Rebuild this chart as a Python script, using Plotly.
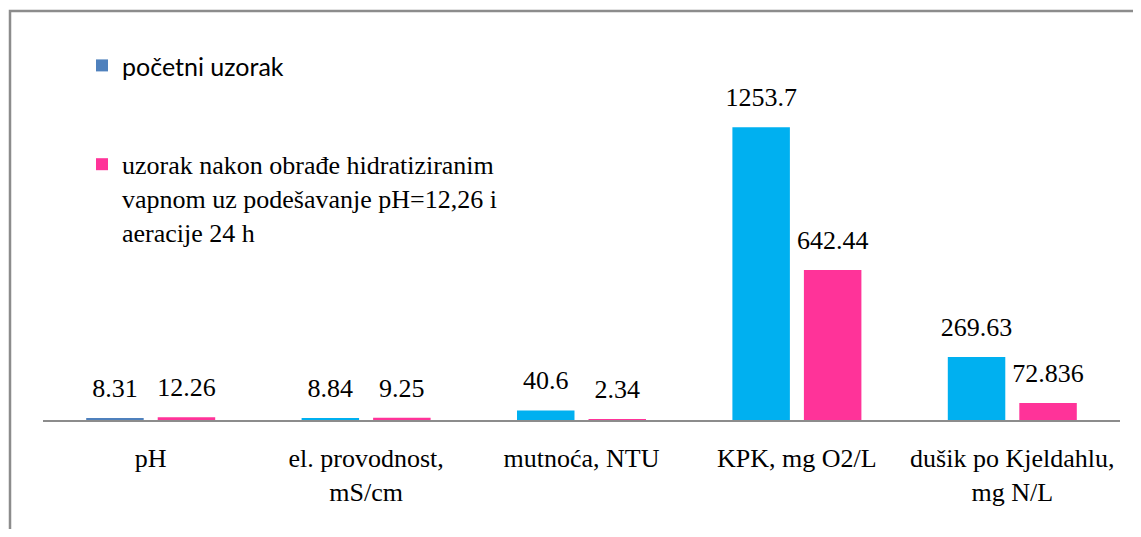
import plotly.graph_objects as go

categories = ["pH", "el. provodnost,<br>mS/cm", "mutnoća, NTU", "KPK, mg O2/L", "dušik po Kjeldahlu,<br>mg N/L"]
initial_vals = [8.31, 8.84, 40.6, 1253.7, 269.63]
treated_vals = [12.26, 9.25, 2.34, 642.44, 72.836]
initial_name = "početni uzorak"
treated_name = "uzorak nakon obrađe hidratiziranim<br>vapnom uz podešavanje pH=12,26 i<br>aeracije 24 h"

initial_colors = ["#4F81BD", "#00B0F0", "#00B0F0", "#00B0F0", "#00B0F0"]
treated_color = "#FF3399"
serif = "Liberation Serif"
FS = 26

# page has an 8px body margin; figure is sized to fit the 1141x537 window
OFF = 8
W, H = 1141 - 2 * OFF, 537 - 2 * OFF
L, R, T, B = 35, 13, 85, 109
pw, ph = W - L - R, H - T - B

def px_x(x):
    return (x - OFF - L) / pw

def px_y(y):
    return (H - B - (y - OFF)) / ph

fig = go.Figure()
fig.add_trace(go.Bar(
    x=categories, y=initial_vals,
    name='<span style="font-family:Lato;font-size:25px">' + initial_name + '</span>',
    marker=dict(color=initial_colors, line=dict(width=0)),
    legendgroup="a", offsetgroup="a", hoverinfo="x+y",
))
fig.add_trace(go.Bar(
    x=categories, y=treated_vals, name=treated_name,
    marker=dict(color=treated_color, line=dict(width=0)),
    legendgroup="b", offsetgroup="b", hoverinfo="x+y",
))
# value labels, grouped like the bars
for vals, grp in ((initial_vals, "a"), (treated_vals, "b")):
    fig.add_trace(go.Scatter(
        x=categories, y=vals, mode="markers+text",
        text=[str(v) for v in vals], textposition="top center",
        textfont=dict(family=serif, size=FS, color="black"),
        marker=dict(size=22, opacity=0),
        showlegend=False, hoverinfo="skip", cliponaxis=False,
        offsetgroup=grp,
    ))

fig.add_shape(type="path", xref="paper", yref="paper",
              path="M {x0},{yb} L {x0},{yt} L {xr},{yt}".format(
                  x0=px_x(10), yb=px_y(700), yt=px_y(11), xr=px_x(1250)),
              line=dict(color="#8C8C8C", width=2.5), layer="below")

fig.update_layout(
    width=W, height=H,
    margin=dict(l=L, r=R, t=T, b=B),
    paper_bgcolor="white", plot_bgcolor="white",
    barmode="group", bargap=0.336, bargroupgap=0.196,
    scattermode="group", scattergap=0.336,
    font=dict(family=serif, size=FS, color="black"),
    showlegend=True,
    legend=dict(x=px_x(82), y=px_y(42), xanchor="left", yanchor="top",
                font=dict(family=serif, size=FS, color="black"),
                tracegroupgap=62, valign="top", bgcolor="rgba(0,0,0,0)",
                traceorder="grouped"),
    xaxis=dict(showline=True, linecolor="#8C8C8C", linewidth=2, ticks="",
               showgrid=False, ticklabelstandoff=14,
               tickfont=dict(family=serif, size=FS, color="black")),
    yaxis=dict(range=[0, 1400], visible=False, showgrid=False, zeroline=False),
)

fig.write_html("out.html")
